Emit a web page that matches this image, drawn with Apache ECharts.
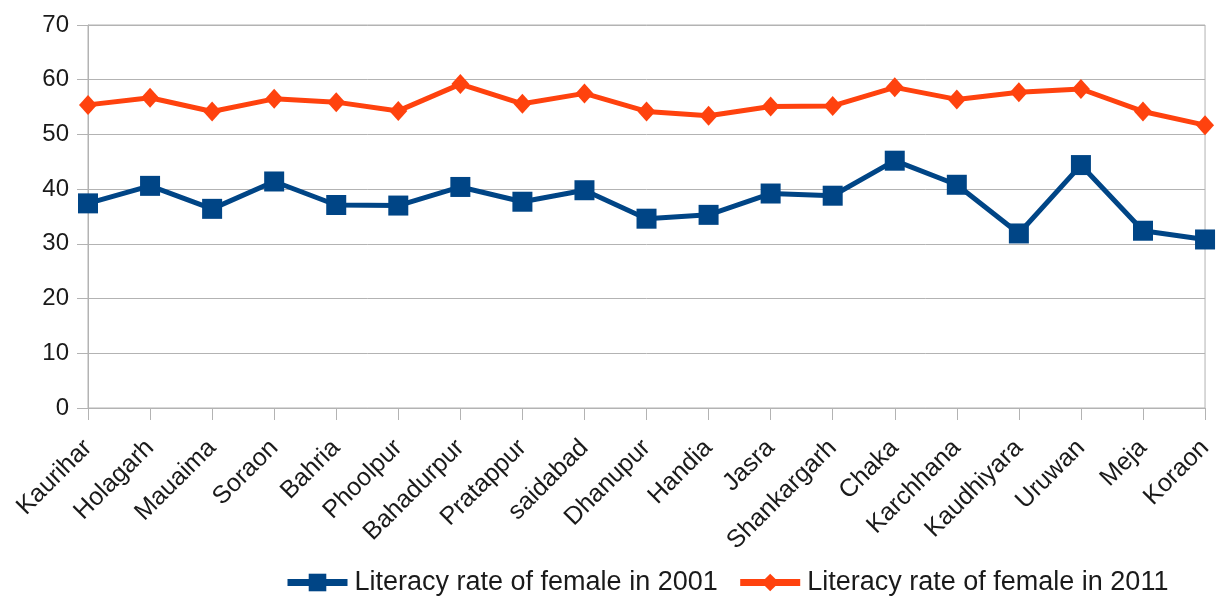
<!DOCTYPE html>
<html><head><meta charset="utf-8">
<script src="https://cdn.jsdelivr.net/npm/echarts@6/dist/echarts.min.js"></script>
<style>html,body{margin:0;padding:0;background:#fff}#c{width:1216px;height:601px}</style>
</head><body><div id="c"></div>
<script>
const categories = ["Kaurihar","Holagarh","Mauaima","Soraon","Bahria","Phoolpur","Bahadurpur","Pratappur","saidabad","Dhanupur","Handia","Jasra","Shankargarh","Chaka","Karchhana","Kaudhiyara","Uruwan","Meja","Koraon"];
const rate2001 = [37.4,40.6,36.4,41.4,37.1,37.0,40.4,37.7,39.8,34.6,35.3,39.2,38.8,45.2,40.8,31.9,44.4,32.4,30.8];
const rate2011 = [55.4,56.7,54.2,56.5,55.9,54.3,59.2,55.6,57.5,54.2,53.4,55.1,55.2,58.6,56.4,57.7,58.3,54.2,51.7];
const seriesNames = ["Literacy rate of female in 2001","Literacy rate of female in 2011"];
const yTicks = {min:0,max:70,interval:10};

const chart = echarts.init(document.getElementById('c'), null, {renderer:'canvas'});
const font = "Liberation Sans";
chart.setOption({
  animation:false,
  backgroundColor:'#fff',
  grid:{left:88,right:8,top:25,bottom:193,show:true,borderColor:'#b3b3b3',borderWidth:1,containLabel:false},
  xAxis:{type:'category',data:categories,boundaryGap:false,
    axisLine:{lineStyle:{color:'#b3b3b3',width:1}},
    axisTick:{show:true,length:12,lineStyle:{color:'#b3b3b3'},alignWithLabel:true},
    axisLabel:{rotate:45,fontFamily:font,fontSize:25,color:'#1a1a1a',margin:36,interval:0},
    splitLine:{show:false}},
  yAxis:{type:'value',min:yTicks.min,max:yTicks.max,interval:yTicks.interval,
    axisLine:{show:true,lineStyle:{color:'#b3b3b3'}},
    axisTick:{show:true,length:11,lineStyle:{color:'#b3b3b3'}},
    axisLabel:{fontFamily:font,fontSize:24,color:'#1a1a1a',margin:19},
    splitLine:{show:true,lineStyle:{color:'#b3b3b3',width:1}}},
  legend:{top:564,left:279,itemWidth:60,itemHeight:22,itemGap:19,
    lineStyle:{width:7},
    textStyle:{fontFamily:font,fontSize:27,color:'#1a1a1a',padding:[0,0,0,2]},
    data:seriesNames},
  series:[
    {name:seriesNames[0],type:'line',data:rate2001,symbol:'rect',symbolSize:20,
      lineStyle:{color:'#004586',width:5},itemStyle:{color:'#004586'}},
    {name:seriesNames[1],type:'line',data:rate2011,symbol:'diamond',symbolSize:[18,20],
      lineStyle:{color:'#ff420e',width:5},itemStyle:{color:'#ff420e'}}
  ]
});
</script></body></html>
